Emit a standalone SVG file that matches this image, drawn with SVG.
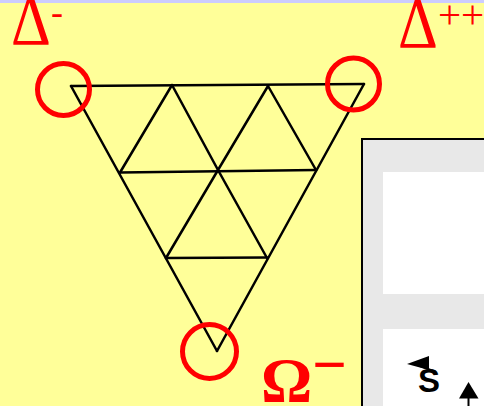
<svg xmlns="http://www.w3.org/2000/svg" width="484" height="406" viewBox="0 0 484 406">
<defs>
<style>
.edge{stroke:#000;stroke-width:2.5;fill:none;stroke-linecap:round}
.ring{fill:none;stroke:#FF0000;stroke-width:5}
.lbl{font-family:"Liberation Serif",serif;fill:#FF0000}
</style>
</defs>
<rect x="0" y="0" width="484" height="406" fill="#FFFF99"/>
<rect x="0" y="0" width="484" height="3" fill="#CCCCFF"/>
<g id="connectors">
<line class="edge" x1="71" y1="86" x2="364" y2="84"/>
<line class="edge" x1="71" y1="86" x2="217" y2="351"/>
<line class="edge" x1="364" y1="84" x2="217" y2="351"/>
<line class="edge" x1="120" y1="172.5" x2="316" y2="170"/>
<line class="edge" x1="166" y1="258" x2="267" y2="257.5"/>
<line class="edge" x1="172" y1="85" x2="120" y2="172.5"/>
<polyline class="edge" points="172,85 218,170 267,258"/>
<polyline class="edge" points="268,86 218,170 166,258"/>
<line class="edge" x1="268" y1="86" x2="316" y2="170"/>
</g>
<g id="node-delta-minus">
<circle class="ring" cx="63.5" cy="89.5" r="26"/>
<text class="lbl" font-size="62" transform="translate(11,44) scale(1,1.15)">Δ</text>
<text class="lbl" x="51" y="23.5" font-size="36">-</text>
</g>
<g id="node-delta-plusplus">
<circle class="ring" cx="353.5" cy="84" r="26"/>
<text class="lbl" font-size="62" transform="translate(398,47) scale(1,1.15)">Δ</text>
<text class="lbl" x="438" y="28" font-size="41">++</text>
</g>
<g id="node-omega-minus">
<circle class="ring" cx="209.5" cy="351.5" r="27"/>
<text class="lbl" x="261" y="402" font-size="64" font-weight="bold">Ω<tspan dy="-17" font-size="61">−</tspan></text>
</g>
<g id="panel">
<rect x="362" y="139" width="130" height="280" fill="#E8E8E8" stroke="#000" stroke-width="2"/>
<rect x="383" y="172" width="110" height="122" fill="#FFFFFF"/>
<rect x="383" y="329" width="110" height="90" fill="#FFFFFF"/>
<text x="418" y="392" font-family="Liberation Sans,Arial,sans-serif" font-weight="bold" font-size="33" fill="#000">S</text>
<line x1="436" y1="372" x2="420" y2="366" stroke="#000" stroke-width="2"/>
<polygon points="407,364 429,356 429,370" fill="#000"/>
<line x1="468.5" y1="397" x2="468.5" y2="406" stroke="#000" stroke-width="2"/>
<polygon points="468.5,382 478.5,398.5 459,398.5" fill="#000"/>
</g>
</svg>
